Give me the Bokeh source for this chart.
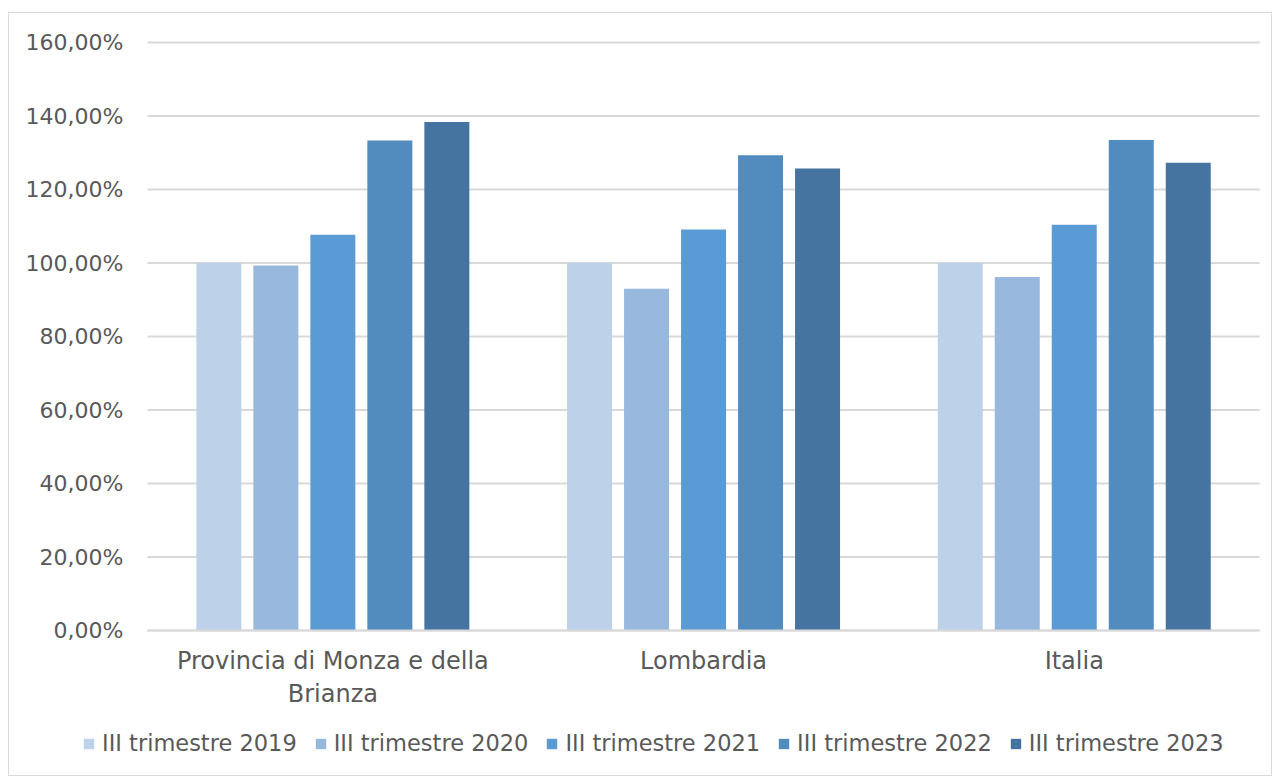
from bokeh.plotting import figure
from bokeh.models import Range1d, FixedTicker, Legend, LegendItem, ColumnDataSource
from bokeh.embed import file_html
from bokeh.resources import INLINE

regions = ["Provincia di Monza e della\nBrianza", "Lombardia", "Italia"]
series = ["III trimestre 2019", "III trimestre 2020", "III trimestre 2021",
          "III trimestre 2022", "III trimestre 2023"]
v2019 = [100.0, 100.0, 100.0]
v2020 = [99.3, 93.0, 96.2]
v2021 = [107.7, 109.1, 110.4]
v2022 = [133.3, 129.3, 133.5]
v2023 = [138.4, 125.7, 127.3]
values = [v2019, v2020, v2021, v2022, v2023]
colors = ["#BDD1E9", "#98B8DE", "#5B9BD5", "#528BBE", "#44749F"]
y_ticks = [0, 20, 40, 60, 80, 100, 120, 140, 160]
y_tick_labels = ["0,00%", "20,00%", "40,00%", "60,00%", "80,00%",
                 "100,00%", "120,00%", "140,00%", "160,00%"]

FONT = "DejaVu Sans"
TXT = "#595959"
GRID = "#D9D9D9"

W, H, TOP = 1264, 764, 12
PX_X = 370.7          # pixels per category
PX_Y = 3.675          # pixels per percentage point
x0 = -138 / PX_X
y0 = -147 / PX_Y
n = len(regions)

p = figure(width=W, height=H,
           x_range=Range1d(x0, x0 + W / PX_X),
           y_range=Range1d(y0, y0 + (H - TOP) / PX_Y),
           output_backend="svg", toolbar_location=None,
           min_border_left=0, min_border_right=0, min_border_top=TOP, min_border_bottom=0)
p.margin = (12, 0, 0, 8)
p.styles = {"border": "1px solid #D9D9D9"}
p.outline_line_color = None
p.background_fill_color = "white"
p.border_fill_color = "white"

# horizontal grid lines across the category band only
grid_src = ColumnDataSource(dict(x0=[0] * len(y_ticks), x1=[n] * len(y_ticks),
                                 y=y_ticks))
p.segment(x0="x0", x1="x1", y0="y", y1="y", source=grid_src,
          line_color=GRID, line_width=2)

centers = [i + 0.5 for i in range(n)]
bar_w = 45 / PX_X
step = 57 / PX_X
items = []
for k, (name, vals, col) in enumerate(zip(series, values, colors)):
    xs = [c + (k - 2) * step for c in centers]
    src = ColumnDataSource(dict(x=xs, top=vals))
    r = p.vbar(x="x", top="top", bottom=0, width=bar_w, source=src,
               fill_color=col, line_color=None)
    items.append(LegendItem(label=name, renderers=[r]))

# y axis (drawn inside the frame at x = 0)
p.yaxis.fixed_location = 0
p.yaxis.ticker = FixedTicker(ticks=y_ticks)
p.yaxis.major_label_overrides = {t: l for t, l in zip(y_ticks, y_tick_labels)}
p.yaxis.axis_line_color = None
p.yaxis.major_tick_line_color = None
p.yaxis.minor_tick_line_color = None
p.yaxis.major_tick_out = 0
p.yaxis.major_tick_in = 0
p.yaxis.major_label_standoff = 24
p.yaxis.major_label_text_font = FONT
p.yaxis.major_label_text_font_size = "22px"
p.yaxis.major_label_text_color = TXT

# x axis (drawn inside the frame at y = 0)
p.xaxis.fixed_location = 0
p.xaxis.bounds = (0, n)
p.xaxis.ticker = FixedTicker(ticks=centers)
p.xaxis.major_label_overrides = {c: r for c, r in zip(centers, regions)}
p.xaxis.axis_line_color = GRID
p.xaxis.axis_line_width = 2
p.xaxis.major_tick_line_color = None
p.xaxis.minor_tick_line_color = None
p.xaxis.major_tick_out = 0
p.xaxis.major_tick_in = 0
p.xaxis.major_label_standoff = 16
p.xaxis.major_label_text_font = FONT
p.xaxis.major_label_text_font_size = "24px"
p.xaxis.major_label_text_color = TXT

p.xgrid.grid_line_color = None
p.ygrid.grid_line_color = None

legend = Legend(items=items, orientation="horizontal", location=(73, 21),
                glyph_width=13, glyph_height=13, label_standoff=7, spacing=17,
                label_text_font=FONT, label_text_font_size="22.5px",
                label_text_color=TXT, border_line_color=None,
                background_fill_alpha=0, margin=0, padding=0)
p.add_layout(legend, "center")

open("out.html", "w").write(file_html(p, INLINE))
